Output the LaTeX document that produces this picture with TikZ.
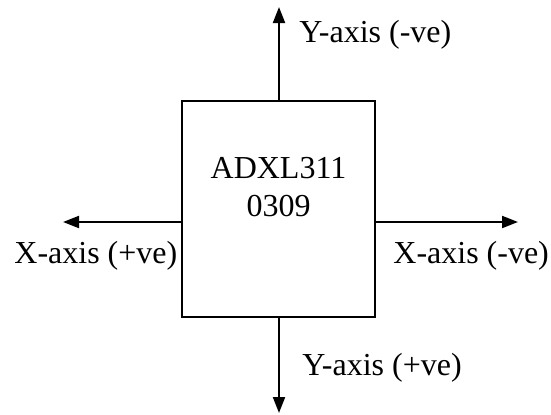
\documentclass[tikz,border=0pt]{standalone}
\usepackage{fontspec}
\setmainfont{Liberation Serif}
\usetikzlibrary{arrows.meta}
\tikzset{
	axisarrow/.style={-{Triangle[length=8pt,width=6pt]},line width=1pt},
	axislabel/.style={inner sep=0pt,anchor=base west}
}
\begin{document}
\begin{tikzpicture}[x=0.5pt,y=0.5pt,font=\fontsize{16}{19}\selectfont,line join=miter,line cap=butt]
	\useasboundingbox (0,0) rectangle (551,414);
	
	\node[draw,line width=1.1pt,minimum width=96.5pt,minimum height=108pt,inner sep=0pt] (chip) at (278.5,205) {};
	\node[align=center,inner sep=0pt] (chiplabel) at (278.5,227) {ADXL311\\0309};
	
	\coordinate (xpos) at (63,192);
	\coordinate (xneg) at (518,192);
	\coordinate (yneg) at (279,407);
	\coordinate (ypos) at (279,1);
	
	\draw[axisarrow] (chip.west |- xpos) -- (xpos);
	\draw[axisarrow] (chip.east |- xneg) -- (xneg);
	\draw[axisarrow] (chip.north -| yneg) -- (yneg);
	\draw[axisarrow] (chip.south -| ypos) -- (ypos);
	
	\node[axislabel] (xposlabel) at (14,151) {X-axis (+ve)};
	\node[axislabel] (xneglabel) at (393,151) {X-axis (-ve)};
	\node[axislabel] (yneglabel) at (299,372) {Y-axis (-ve)};
	\node[axislabel] (yposlabel) at (302,39) {Y-axis (+ve)};
\end{tikzpicture}
\end{document}
